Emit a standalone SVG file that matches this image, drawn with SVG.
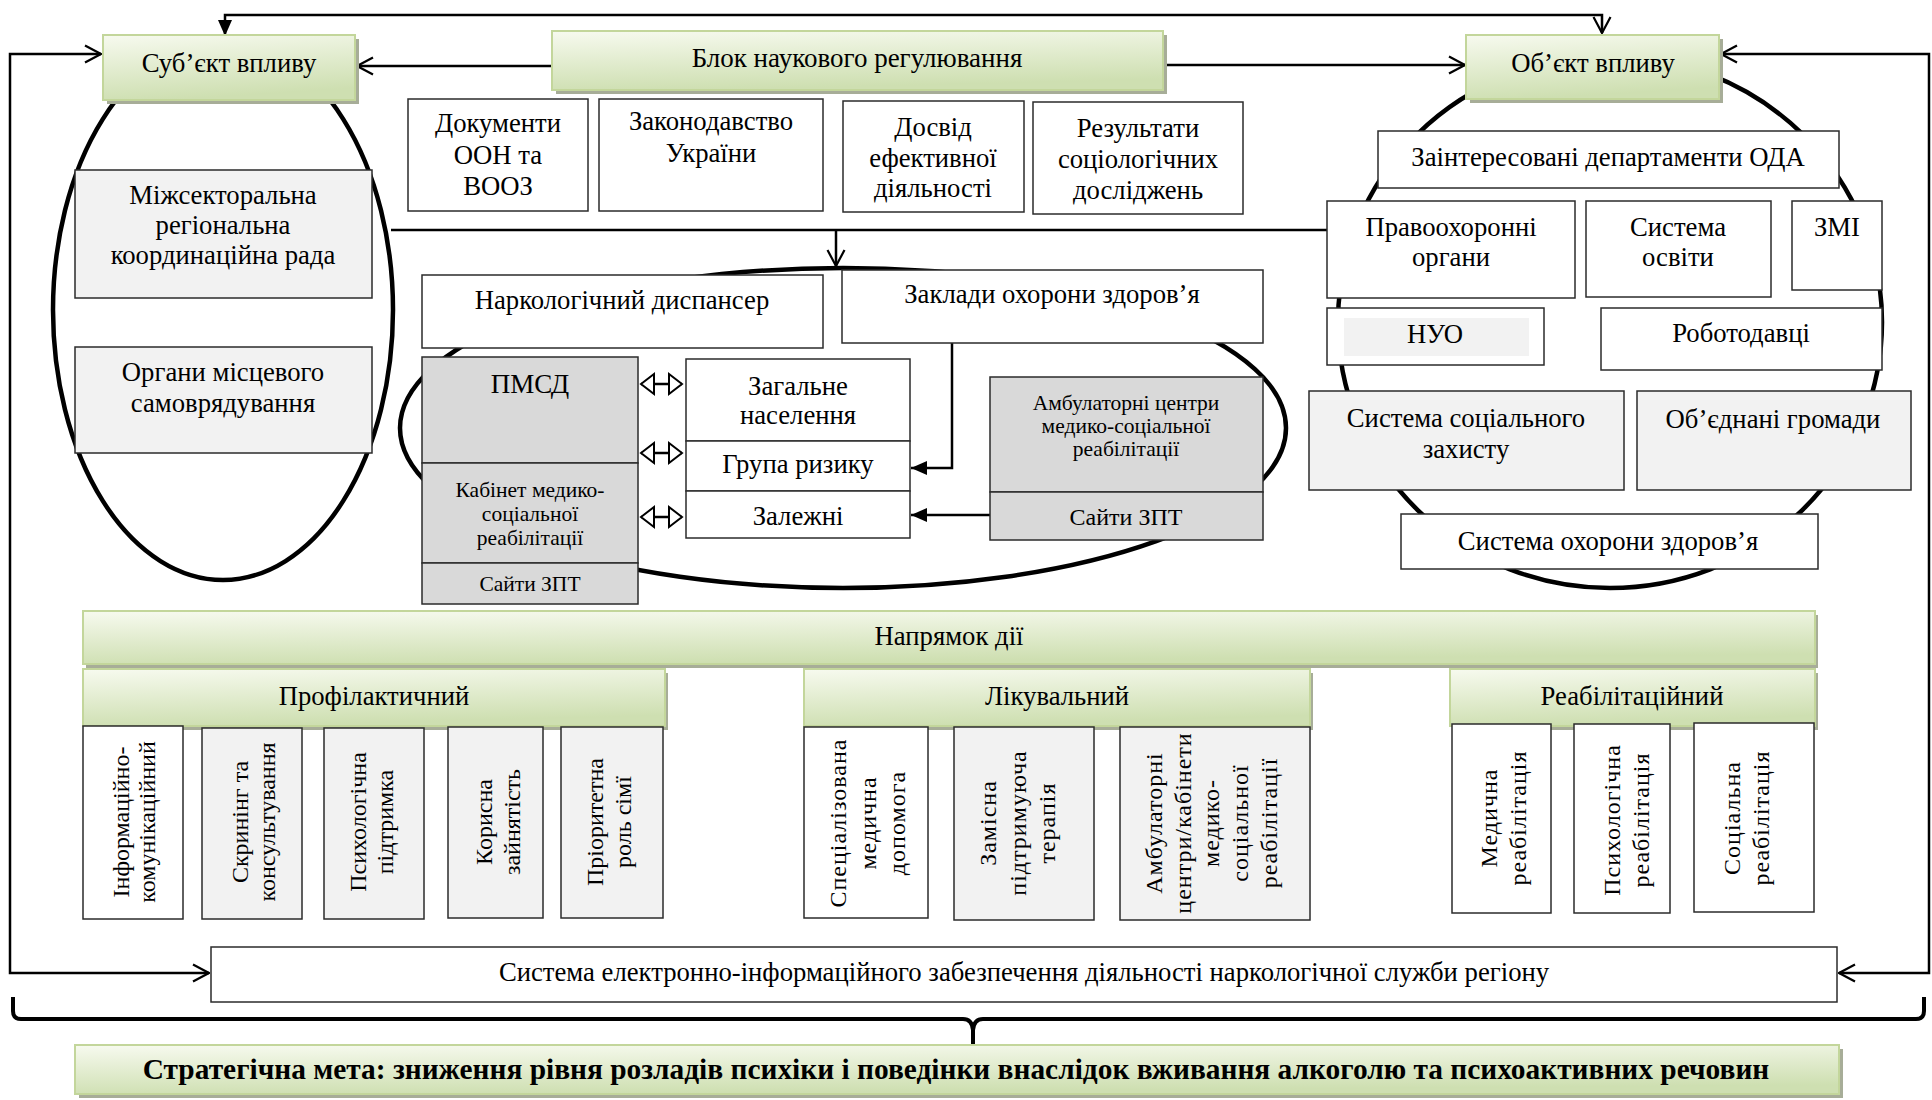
<svg xmlns="http://www.w3.org/2000/svg" width="1932" height="1100" viewBox="0 0 1932 1100">
<defs>
<linearGradient id="gg" x1="0" y1="0" x2="0.25" y2="1">
<stop offset="0" stop-color="#f7faef"/>
<stop offset="1" stop-color="#cedfb1"/>
</linearGradient>
<marker id="chev" markerUnits="userSpaceOnUse" viewBox="0 0 20 20" refX="19" refY="10" markerWidth="20" markerHeight="20" orient="auto-start-reverse"><path d="M3,1.5 L19,10 L3,18.5" fill="none" stroke="#000" stroke-width="2.2"/></marker>
<marker id="tri" markerUnits="userSpaceOnUse" viewBox="0 0 16 14" refX="16" refY="7" markerWidth="16" markerHeight="14" orient="auto-start-reverse"><path d="M0,0 L16,7 L0,14 Z" fill="#000"/></marker>
</defs>
<style>
.b{fill:#fff;stroke:#2b2b2b;stroke-width:1.5}
.l{fill:#f2f2f2;stroke:#2b2b2b;stroke-width:1.5}
.d{fill:#d9d9d9;stroke:#2b2b2b;stroke-width:1.5}
.g{fill:url(#gg);stroke:#c3d69b;stroke-width:2}
.sh{fill:#a7ad98}
.e{fill:none;stroke:#000;stroke-width:4.5}
.c{fill:none;stroke:#000;stroke-width:2.5}
.da{fill:#fff;stroke:#000;stroke-width:2}
text{font-family:"Liberation Serif","Times New Roman",serif;font-size:26.7px;fill:#000;text-anchor:middle}
.s20{font-size:21.5px}
.s23{font-size:24px}
.s27{font-size:27px}
.v{font-size:24px}
.vs{font-size:24px;letter-spacing:1px}
.bold{font-weight:bold;font-size:29.4px}
</style>

<g id="groupings">
<ellipse class="e" cx="223" cy="310" rx="170" ry="270"/>
<ellipse class="e" cx="843" cy="428" rx="443" ry="160"/>
<ellipse class="e" cx="1610" cy="322" rx="272" ry="266"/>
</g>

<g id="connectors">
<path class="c" d="M225,36 V15 H1602 V33" marker-start="url(#tri)" marker-end="url(#chev)"/>
<path class="c" d="M101,54 H10 V973 H209" marker-start="url(#chev)" marker-end="url(#chev)"/>
<path class="c" d="M1721,54 H1929 V973 H1839" marker-start="url(#chev)" marker-end="url(#chev)"/>
<path class="c" d="M552,66 H357" marker-end="url(#chev)"/>
<path class="c" d="M1163,65 H1465" marker-end="url(#chev)"/>
<path class="c" d="M391,230 H1327"/>
<path class="c" d="M836,230 V266" marker-end="url(#chev)"/>
<path class="c" d="M952,343 V468 H911" marker-end="url(#tri)"/>
<path class="c" d="M990,515 H911" marker-end="url(#tri)"/>
<g id="double-arrows">
<path class="c" d="M641,384 H682 M641,453 H682 M641,517 H682"/>
<path class="da" d="M641,384 L654,374 L654,394 Z M682,384 L669,374 L669,394 Z"/>
<path class="da" d="M641,453 L654,443 L654,463 Z M682,453 L669,443 L669,463 Z"/>
<path class="da" d="M641,517 L654,507 L654,527 Z M682,517 L669,507 L669,527 Z"/>
</g>
<path fill="none" stroke="#000" stroke-width="4" d="M13,997 V1011 Q13,1019 21,1019 H963 Q972,1019 973,1030 V1045 M973,1030 Q974,1019 983,1019 H1916 Q1924,1019 1924,1011 V997"/>
</g>

<g id="subject">
<rect class="sh" x="107" y="39" width="252" height="65"/>
<rect class="g" x="103" y="35" width="252" height="65"/>
<text x="229" y="72">Суб’єкт впливу</text>
</g>
<g id="science-block">
<rect class="sh" x="556" y="35" width="611" height="59"/>
<rect class="g" x="552" y="31" width="611" height="59"/>
<text x="857" y="67" style="font-size:27px">Блок наукового регулювання</text>
</g>
<g id="object">
<rect class="sh" x="1470" y="39" width="253" height="64"/>
<rect class="g" x="1466" y="35" width="253" height="64"/>
<text x="1593" y="72">Об’єкт впливу</text>
</g>

<g id="un-docs">
<rect class="b" x="408" y="99" width="180" height="112"/>
<text x="498" y="132">Документи</text><text x="498" y="164">ООН та</text><text x="498" y="195">ВООЗ</text>
</g>
<g id="legislation">
<rect class="b" x="599" y="99" width="224" height="112"/>
<text x="711" y="130">Законодавство</text><text x="711" y="162">України</text>
</g>
<g id="experience">
<rect class="b" x="843" y="101" width="181" height="111"/>
<text x="933" y="136">Досвід</text><text x="933" y="167">ефективної</text><text x="933" y="197">діяльності</text>
</g>
<g id="research">
<rect class="b" x="1033" y="102" width="210" height="112"/>
<text x="1138" y="137">Результати</text><text x="1138" y="168">соціологічних</text><text x="1138" y="199">досліджень</text>
</g>

<g id="council">
<rect class="l" x="75" y="170" width="297" height="128"/>
<text x="223" y="204">Міжсекторальна</text><text x="223" y="234">регіональна</text><text x="223" y="264">координаційна рада</text>
</g>
<g id="local-gov">
<rect class="l" x="75" y="347" width="297" height="106"/>
<text x="223" y="381">Органи місцевого</text><text x="223" y="412">самоврядування</text>
</g>

<g id="dispensary">
<rect class="b" x="422" y="275" width="401" height="73"/>
<text x="622" y="309">Наркологічний диспансер</text>
</g>
<g id="health-facilities">
<rect class="b" x="842" y="270" width="421" height="73"/>
<text x="1052" y="303">Заклади охорони здоров’я</text>
</g>
<g id="pmsd">
<rect class="d" x="422" y="357" width="216" height="106"/>
<text class="s27" x="530" y="393">ПМСД</text>
</g>
<g id="rehab-cabinet">
<rect class="d" x="422" y="463" width="216" height="100"/>
<text class="s20" x="530" y="497">Кабінет медико-</text><text class="s20" x="530" y="521">соціальної</text><text class="s20" x="530" y="545">реабілітації</text>
</g>
<g id="ost-left">
<rect class="d" x="422" y="563" width="216" height="41"/>
<text class="s20" x="530" y="591">Сайти ЗПТ</text>
</g>
<g id="general-pop">
<rect class="b" x="686" y="359" width="224" height="82"/>
<text x="798" y="395">Загальне</text><text x="798" y="424">населення</text>
</g>
<g id="risk-group">
<rect class="b" x="686" y="441" width="224" height="50"/>
<text x="798" y="473">Група ризику</text>
</g>
<g id="dependent">
<rect class="b" x="686" y="491" width="224" height="47"/>
<text x="798" y="525">Залежні</text>
</g>
<g id="ambulatory-centers">
<rect class="d" x="990" y="377" width="273" height="115"/>
<text class="s20" x="1126" y="410">Амбулаторні центри</text><text class="s20" x="1126" y="433">медико-соціальної</text><text class="s20" x="1126" y="456">реабілітації</text>
</g>
<g id="ost-right">
<rect class="d" x="990" y="492" width="273" height="48"/>
<text class="s23" x="1126" y="525">Сайти ЗПТ</text>
</g>

<g id="oda">
<rect class="b" x="1378" y="131" width="461" height="57"/>
<text x="1608" y="166">Заінтересовані департаменти ОДА</text>
</g>
<g id="law-enforcement">
<rect class="b" x="1327" y="201" width="248" height="97"/>
<text x="1451" y="236">Правоохоронні</text><text x="1451" y="266">органи</text>
</g>
<g id="education">
<rect class="b" x="1586" y="201" width="185" height="96"/>
<text x="1678" y="236">Система</text><text x="1678" y="266">освіти</text>
</g>
<g id="media">
<rect class="b" x="1792" y="201" width="90" height="89"/>
<text x="1837" y="236">ЗМІ</text>
</g>
<g id="ngo">
<rect class="b" x="1327" y="308" width="217" height="57"/>
<rect x="1344" y="318" width="185" height="38" fill="#f2f2f2"/>
<text x="1435" y="343">НУО</text>
</g>
<g id="employers">
<rect class="b" x="1601" y="308" width="281" height="62"/>
<text x="1741" y="342">Роботодавці</text>
</g>
<g id="social-protection">
<rect class="l" x="1309" y="391" width="315" height="99"/>
<text x="1466" y="427">Система соціального</text><text x="1466" y="458">захисту</text>
</g>
<g id="communities">
<rect class="l" x="1637" y="391" width="274" height="99"/>
<text x="1773" y="428">Об’єднані громади</text>
</g>
<g id="health-system">
<rect class="b" x="1401" y="514" width="417" height="55"/>
<text x="1608" y="550">Система охорони здоров’я</text>
</g>

<g id="direction">
<rect class="sh" x="86" y="615" width="1732" height="53"/>
<rect class="g" x="83" y="611" width="1732" height="53"/>
<text x="949" y="645">Напрямок дії</text>
</g>
<g id="preventive">
<rect class="sh" x="86" y="673" width="582" height="57"/>
<rect class="g" x="83" y="669" width="582" height="57"/>
<text x="374" y="705">Профілактичний</text>
</g>
<g id="treatment">
<rect class="sh" x="807" y="673" width="506" height="57"/>
<rect class="g" x="804" y="669" width="506" height="57"/>
<text x="1057" y="705">Лікувальний</text>
</g>
<g id="rehabilitation">
<rect class="sh" x="1453" y="673" width="365" height="57"/>
<rect class="g" x="1450" y="669" width="365" height="57"/>
<text x="1632" y="705">Реабілітаційний</text>
</g>

<g id="p-info">
<rect class="b" x="83" y="726" width="100" height="193"/>
<text class="v" transform="translate(129,822) rotate(-90)"><tspan x="0" y="0">Інформаційно-</tspan><tspan x="0" y="26">комунікаційний</tspan></text>
</g>
<g id="p-screening">
<rect class="l" x="202" y="728" width="100" height="191"/>
<text class="v" transform="translate(248,822) rotate(-90)"><tspan x="0" y="0">Скринінг та</tspan><tspan x="0" y="27">консультування</tspan></text>
</g>
<g id="p-psych">
<rect class="l" x="324" y="728" width="100" height="191"/>
<text class="v" transform="translate(366,822) rotate(-90)"><tspan x="0" y="0">Психологічна</tspan><tspan x="0" y="27">підтримка</tspan></text>
</g>
<g id="p-employment">
<rect class="l" x="448" y="727" width="95" height="191"/>
<text class="v" transform="translate(492,822) rotate(-90)"><tspan x="0" y="0">Корисна</tspan><tspan x="0" y="28">зайнятість</tspan></text>
</g>
<g id="p-family">
<rect class="l" x="561" y="727" width="102" height="191"/>
<text class="v" transform="translate(603,822) rotate(-90)"><tspan x="0" y="0">Пріоритетна</tspan><tspan x="0" y="28">роль сімї</tspan></text>
</g>

<g id="t-specialized">
<rect class="b" x="804" y="727" width="124" height="191"/>
<text class="vs" transform="translate(846,823) rotate(-90)"><tspan x="0" y="0">Спеціалізована</tspan><tspan x="0" y="29.5">медична</tspan><tspan x="0" y="59">допомога</tspan></text>
</g>
<g id="t-substitution">
<rect class="l" x="954" y="727" width="140" height="193"/>
<text class="vs" transform="translate(996,823) rotate(-90)"><tspan x="0" y="0">Замісна</tspan><tspan x="0" y="29.5">підтримуюча</tspan><tspan x="0" y="59">терапія</tspan></text>
</g>
<g id="t-ambulatory">
<rect class="l" x="1120" y="727" width="190" height="193"/>
<text class="vs" transform="translate(1162,823) rotate(-90)"><tspan x="0" y="0">Амбулаторні</tspan><tspan x="0" y="28.7">центри/кабінети</tspan><tspan x="0" y="57.4">медико-</tspan><tspan x="0" y="86.1">соціальної</tspan><tspan x="0" y="114.8">реабілітації</tspan></text>
</g>

<g id="r-medical">
<rect class="b" x="1452" y="724" width="99" height="189"/>
<text class="vs" transform="translate(1497,818) rotate(-90)"><tspan x="0" y="0">Медична</tspan><tspan x="0" y="29">реабілітація</tspan></text>
</g>
<g id="r-psych">
<rect class="b" x="1574" y="724" width="96" height="189"/>
<text class="vs" transform="translate(1620,820) rotate(-90)"><tspan x="0" y="0">Психологічна</tspan><tspan x="0" y="29">реабілітація</tspan></text>
</g>
<g id="r-social">
<rect class="b" x="1694" y="723" width="120" height="189"/>
<text class="vs" transform="translate(1740,818) rotate(-90)"><tspan x="0" y="0">Соціальна</tspan><tspan x="0" y="29">реабілітація</tspan></text>
</g>

<g id="e-info-system">
<rect class="b" x="211" y="947" width="1626" height="55"/>
<text x="1024" y="981">Система електронно-інформаційного забезпечення діяльності наркологічної служби регіону</text>
</g>
<g id="strategic-goal">
<rect class="sh" x="79" y="1049" width="1764" height="49"/>
<rect class="g" x="75" y="1045" width="1764" height="49"/>
<text class="bold" x="956" y="1079">Стратегічна мета: зниження рівня розладів психіки і поведінки внаслідок вживання алкоголю та психоактивних речовин</text>
</g>
</svg>
